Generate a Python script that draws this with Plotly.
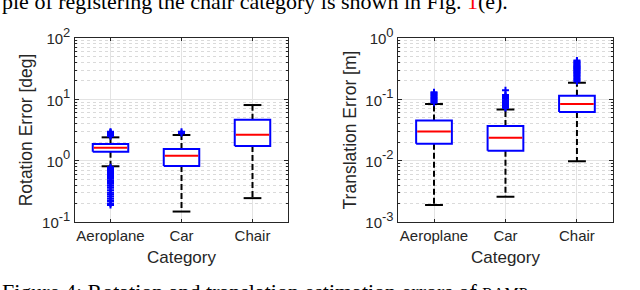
import plotly.graph_objects as go

categories = ["Aeroplane", "Car", "Chair"]

# Rotation error [deg]
rot_q1 = [1.40, 0.82, 1.73]
rot_median = [1.62, 1.20, 2.65]
rot_q3 = [1.87, 1.55, 4.65]
rot_lower = [0.81, 0.148, 0.245]
rot_upper = [2.40, 2.62, 8.07]
rot_outliers = [
    [0.78, 0.75, 0.72, 0.69, 0.66, 0.63, 0.60, 0.57, 0.54, 0.51, 0.48, 0.45, 0.42,
     0.39, 0.36, 0.33, 0.30, 0.28, 0.26, 0.24, 0.22, 0.20, 0.19,
     2.50, 2.58, 2.66, 2.74, 2.82, 2.90, 2.97],
    [2.80, 2.95],
    [],
]
rot_tickvals = [0.1, 1, 10, 100]
rot_exponents = ["-1", "0", "1", "2"]

# Translation error [m]
tr_q1 = [0.0189, 0.0145, 0.062]
tr_median = [0.0299, 0.0236, 0.0838]
tr_q3 = [0.0453, 0.0367, 0.1145]
tr_lower = [0.0019, 0.00258, 0.0098]
tr_upper = [0.0838, 0.0684, 0.187]
tr_outliers = [
    [0.088, 0.092, 0.096, 0.100, 0.105, 0.110, 0.115, 0.120, 0.126, 0.130],
    [0.072, 0.075, 0.078, 0.081, 0.085, 0.089, 0.093, 0.097, 0.102, 0.107, 0.112, 0.118, 0.140],
    [0.195, 0.205, 0.215, 0.225, 0.235, 0.245, 0.255, 0.265, 0.275, 0.285, 0.295,
     0.305, 0.315, 0.325, 0.335, 0.345, 0.355, 0.37, 0.385, 0.40, 0.415, 0.43],
]
tr_tickvals = [0.001, 0.01, 0.1, 1]
tr_exponents = ["-3", "-2", "-1", "0"]

positions = [1, 2, 3]
BOX_W = 0.5
CAP_W = 0.25

BLUE = "#0000ff"
RED = "#ff0000"
AX = "#262626"
FONT = "Liberation Sans, Arial, sans-serif"


def pow_labels(exps):
    return ["<span style='font-size:15px'>10</span><sup>%s</sup>" % e for e in exps]


fig = go.Figure()


def add_panel(xa, ya, q1, med, q3, lo, up, outs):
    # whiskers (dashed)
    xs, ys = [], []
    for p, a, b, c, d in zip(positions, q1, q3, lo, up):
        xs += [p, p, None, p, p, None]
        ys += [b, d, None, a, c, None]
    fig.add_trace(go.Scatter(x=xs, y=ys, mode="lines", xaxis=xa, yaxis=ya,
                             line=dict(color="black", width=2, dash="6px,3px"),
                             hoverinfo="skip", showlegend=False))
    # whisker caps
    cx, cy = [], []
    for p, c, d in zip(positions, lo, up):
        cx += [p - CAP_W / 2, p + CAP_W / 2, None, p - CAP_W / 2, p + CAP_W / 2, None]
        cy += [d, d, None, c, c, None]
    fig.add_trace(go.Scatter(x=cx, y=cy, mode="lines", xaxis=xa, yaxis=ya,
                             line=dict(color="black", width=2),
                             hoverinfo="skip", showlegend=False))
    # boxes (q1..q3)
    for p, a, b in zip(positions, q1, q3):
        l, r = p - BOX_W / 2, p + BOX_W / 2
        fig.add_trace(go.Scatter(x=[l, r, r, l, l], y=[a, a, b, b, a], mode="lines",
                                 fill="toself", fillcolor="white",
                                 xaxis=xa, yaxis=ya,
                                 line=dict(color=BLUE, width=2),
                                 hoverinfo="skip", showlegend=False))
    # medians
    mx, my = [], []
    for p, m in zip(positions, med):
        mx += [p - BOX_W / 2 + 0.015, p + BOX_W / 2 - 0.015, None]
        my += [m, m, None]
    fig.add_trace(go.Scatter(x=mx, y=my, mode="lines", xaxis=xa, yaxis=ya,
                             line=dict(color=RED, width=2),
                             hoverinfo="skip", showlegend=False))
    # outliers
    ox, oy = [], []
    for p, vals in zip(positions, outs):
        ox += [p] * len(vals)
        oy += vals
    fig.add_trace(go.Scatter(x=ox, y=oy, mode="markers", xaxis=xa, yaxis=ya,
                             marker=dict(symbol="cross-thin-open", size=5, color=BLUE,
                                         line=dict(color=BLUE, width=2)),
                             hoverinfo="skip", showlegend=False))


add_panel("x", "y", rot_q1, rot_median, rot_q3, rot_lower, rot_upper, rot_outliers)
add_panel("x2", "y2", tr_q1, tr_median, tr_q3, tr_lower, tr_upper, tr_outliers)

xax = dict(range=[0.5, 3.5], tickvals=positions, ticktext=categories,
           showgrid=True, gridcolor="#e3e3e3", gridwidth=1,
           showline=True, linecolor=AX, linewidth=1, mirror="ticks",
           ticks="inside", ticklen=3, tickcolor=AX, zeroline=False,
           tickfont=dict(family=FONT, size=15, color=AX), ticklabelstandoff=0,
           title=dict(text="Category", font=dict(family=FONT, size=17, color=AX),
                      standoff=8),
           automargin=False)
yax = dict(type="log",
           showgrid=True, gridcolor="#e3e3e3", gridwidth=1,
           minor=dict(dtick="D1", showgrid=True, gridcolor="#dadada",
                      griddash="dot", ticks="inside", ticklen=2, tickcolor=AX),
           showline=True, linecolor=AX, linewidth=1, mirror="ticks",
           ticks="inside", ticklen=4, tickcolor=AX, zeroline=False,
           tickfont=dict(family=FONT, size=18.5, color=AX),
           automargin=False)

fig.update_layout(
    width=640, height=290,
    margin=dict(l=0, r=0, t=0, b=0),
    paper_bgcolor="white", plot_bgcolor="white",
    xaxis=dict(xax, domain=[0.1172, 0.45], anchor="y"),
    yaxis=dict(yax, domain=[0.2345, 0.869], anchor="x", range=[-1, 2],
               tickvals=rot_tickvals, ticktext=pow_labels(rot_exponents),
               title=dict(text="Rotation Error [deg]",
                          font=dict(family=FONT, size=17.5, color=AX), standoff=4)),
    xaxis2=dict(xax, domain=[0.6223, 0.9573], anchor="y2"),
    yaxis2=dict(yax, domain=[0.2345, 0.869], anchor="x2", range=[-3, 0],
                tickvals=tr_tickvals, ticktext=pow_labels(tr_exponents),
                title=dict(text="Translation Error [m]",
                           font=dict(family=FONT, size=17.5, color=AX), standoff=4)),
)

SERIF = "Liberation Serif, Times New Roman, serif"
fig.add_annotation(
    text="ple of registering the chair category is shown in Fig. <span style='color:red'>1</span>(e).",
    xref="paper", yref="paper", x=0, y=1.0, xanchor="left", yanchor="middle",
    yshift=-1,
    showarrow=False, font=dict(family=SERIF, size=22, color="black"))
fig.add_annotation(
    text="Figure 4: Rotation and translation estimation errors of <span style='font-size:16px'>RAMP</span>",
    xref="paper", yref="paper", x=0, y=0, xanchor="left", yanchor="middle",
    yshift=-1,
    showarrow=False, font=dict(family=SERIF, size=22, color="black"))

fig.write_html("out.html", config={"displayModeBar": False},
               post_script="document.body.style.margin='0px';")
